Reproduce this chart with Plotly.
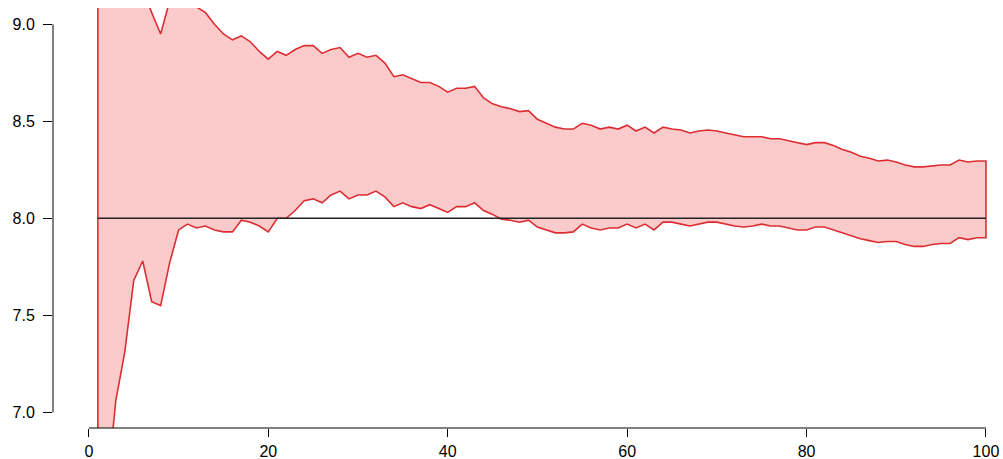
import plotly.graph_objects as go

n_values = list(range(1, 101))
upper = [12.5, 10.6, 9.9, 9.55, 9.35, 9.18, 9.06, 8.95, 9.12, 9.22,
         9.2, 9.09, 9.06, 9.0, 8.95, 8.92, 8.94, 8.91, 8.86, 8.82,
         8.86, 8.84, 8.87, 8.89, 8.89, 8.85, 8.87, 8.88, 8.83, 8.85,
         8.83, 8.84, 8.80, 8.73, 8.74, 8.72, 8.70, 8.70, 8.68, 8.65,
         8.67, 8.67, 8.68, 8.62, 8.59, 8.575, 8.565, 8.55, 8.555, 8.51,
         8.49, 8.47, 8.46, 8.46, 8.49, 8.48, 8.46, 8.47, 8.46, 8.48,
         8.45, 8.47, 8.44, 8.47, 8.46, 8.455, 8.44, 8.45, 8.455, 8.45,
         8.44, 8.43, 8.42, 8.42, 8.42, 8.41, 8.41, 8.40, 8.39, 8.38,
         8.39, 8.39, 8.375, 8.355, 8.34, 8.32, 8.31, 8.295, 8.30, 8.29,
         8.275, 8.265, 8.265, 8.27, 8.275, 8.275, 8.30, 8.29, 8.295, 8.295]
lower = [5.5, 6.59, 7.06, 7.31, 7.68, 7.78, 7.57, 7.55, 7.77, 7.94,
         7.97, 7.95, 7.96, 7.94, 7.93, 7.93, 7.99, 7.98, 7.96, 7.93,
         8.0, 8.0, 8.04, 8.09, 8.10, 8.08, 8.12, 8.14, 8.10, 8.12,
         8.12, 8.14, 8.11, 8.06, 8.08, 8.06, 8.05, 8.07, 8.05, 8.03,
         8.06, 8.06, 8.08, 8.04, 8.02, 7.995, 7.99, 7.98, 7.99, 7.955,
         7.94, 7.925, 7.925, 7.93, 7.97, 7.95, 7.94, 7.95, 7.95, 7.97,
         7.95, 7.97, 7.94, 7.98, 7.98, 7.97, 7.96, 7.97, 7.98, 7.98,
         7.97, 7.96, 7.955, 7.96, 7.97, 7.96, 7.96, 7.95, 7.94, 7.94,
         7.955, 7.955, 7.94, 7.925, 7.91, 7.895, 7.885, 7.875, 7.88, 7.88,
         7.865, 7.855, 7.855, 7.865, 7.87, 7.87, 7.90, 7.89, 7.90, 7.90]
true_value = 8.0
x_ticks = [0, 20, 40, 60, 80, 100]
y_ticks = [7.0, 7.5, 8.0, 8.5, 9.0]
y_tick_labels = ["7.0", "7.5", "8.0", "8.5", "9.0"]

poly_x = n_values + n_values[::-1]
poly_y = upper + lower[::-1]

fig = go.Figure()
fig.add_trace(go.Scatter(
    x=poly_x + [poly_x[0]], y=poly_y + [poly_y[0]], mode="lines",
    fill="toself", fillcolor="#FBCBCB",
    line=dict(color="#DC2E32", width=1.6),
    hoverinfo="skip", showlegend=False))
fig.add_trace(go.Scatter(
    x=[n_values[0], n_values[-1]], y=[true_value, true_value], mode="lines",
    line=dict(color="#222222", width=1.6), showlegend=False))

font = dict(family="Liberation Sans, Arial, sans-serif", size=16, color="#000000")
fig.update_layout(
    width=1003, height=459,
    margin=dict(l=53, r=0, t=8, b=31, autoexpand=False),
    paper_bgcolor="white", plot_bgcolor="white",
    font=font, showlegend=False,
    xaxis=dict(range=[-4, 101.9], showgrid=False, zeroline=False, showline=False,
               tickmode="array", tickvals=x_ticks, ticktext=[str(v) for v in x_ticks],
               ticks="outside", ticklen=8, tickwidth=1, tickcolor="#000000",
               ticklabelstandoff=1, tickfont=font, automargin=False),
    yaxis=dict(range=[6.919, 9.084], showgrid=False, zeroline=False, showline=False,
               tickmode="array", tickvals=y_ticks, ticktext=y_tick_labels,
               ticks="outside", ticklen=9, tickwidth=1, tickcolor="#000000",
               ticklabelstandoff=5, tickfont=font, automargin=False),
    shapes=[
        dict(type="line", xref="x", yref="paper", x0=x_ticks[0], x1=x_ticks[-1], y0=0, y1=0,
             line=dict(color="#000000", width=1), layer="above"),
        dict(type="line", xref="paper", yref="y", x0=0, x1=0, y0=y_ticks[0], y1=y_ticks[-1],
             line=dict(color="#000000", width=1), layer="above"),
    ],
)

fig.write_html("out.html", config={"displayModeBar": False},
               post_script="document.body.style.margin='0';document.body.style.padding='0';")
